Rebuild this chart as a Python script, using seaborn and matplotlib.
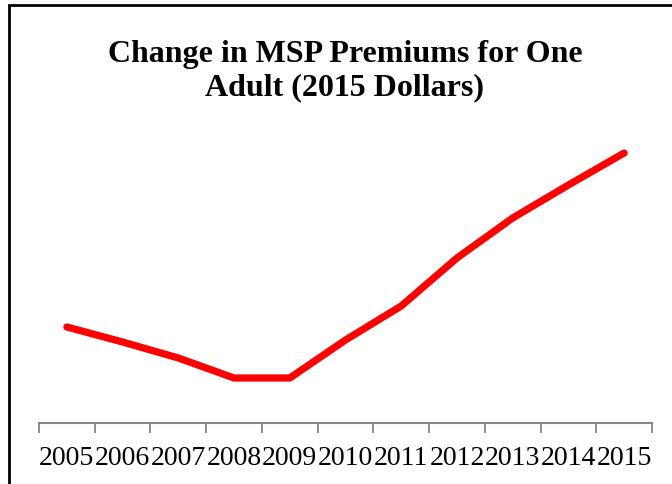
import matplotlib.pyplot as plt
import matplotlib.patches as patches
import seaborn as sns
import pandas as pd

years = ["2005", "2006", "2007", "2008", "2009", "2010", "2011", "2012", "2013", "2014", "2015"]
premium_change = [96, 81, 65, 45, 45, 83, 117, 165, 205, 238, 270]

df = pd.DataFrame({"year": years, "premium": premium_change})

sns.set_style("white")
plt.rcParams["font.family"] = ["Liberation Serif", "DejaVu Serif"]

fig = plt.figure(figsize=(6.72, 4.85), dpi=100)
ax = fig.add_axes([39 / 672, 61 / 485, 613 / 672, 314 / 485])

sns.lineplot(data=df, x="year", y="premium", color="#ff0000", linewidth=5.2,
             sort=False, ax=ax, solid_capstyle="round", solid_joinstyle="round")

ax.set_xlim(-0.5, len(years) - 0.5)
ax.set_ylim(0, 314)
ax.set_xlabel("")
ax.set_ylabel("")
ax.set_yticks([])

# labels sit on categories, tick marks sit between them
ax.set_xticks(range(len(years)))
ax.set_xticklabels(years, fontsize=20, color="black")
ax.tick_params(axis="x", which="major", length=0, pad=16)
ax.set_xticks([i - 0.5 for i in range(len(years) + 1)], minor=True)
ax.tick_params(axis="x", which="minor", bottom=True, length=7, width=1.3,
               color="#868686", direction="out")

for side in ["top", "right", "left"]:
    ax.spines[side].set_visible(False)
ax.spines["bottom"].set_color("#868686")
ax.spines["bottom"].set_linewidth(1.5)

fig.text(345 / 672, 1 - 71 / 485, "Change in MSP Premiums for One\nAdult (2015 Dollars)",
         ha="center", va="center", fontsize=23, fontweight="bold", linespacing=1.18,
         color="black")

# outer chart border (right and bottom edges fall off the picture)
border = patches.Rectangle((9 / 672, -0.1), 1.2, 1.1 - 6 / 485, transform=fig.transFigure,
                           fill=False, edgecolor="black", linewidth=2)
fig.patches.append(border)

fig.savefig("out.png", dpi=100)
